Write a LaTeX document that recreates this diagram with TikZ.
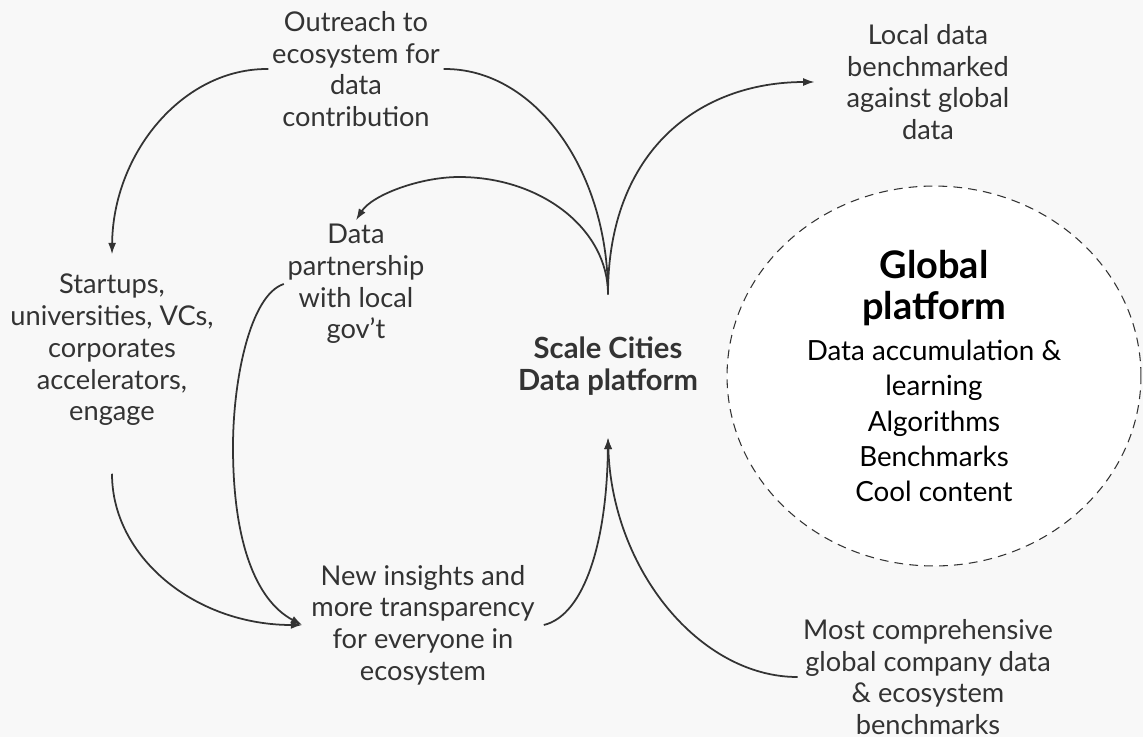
\documentclass[tikz,border=0pt]{standalone}
\usepackage{fontspec}
\setmainfont{Lato}
\usepackage{tikz}
\usetikzlibrary{arrows.meta,positioning,shapes,calc}
\definecolor{ink}{HTML}{333333}
\definecolor{paper}{HTML}{F8F8F8}

\begin{document}
\begin{tikzpicture}[x=0.02cm, y=-0.02cm,
      every node/.style={align=center, inner sep=2pt, text=ink,
          font=\fontsize{15.5}{18.1}\selectfont},
      strong/.style={font=\fontsize{16.6}{18.1}\selectfont\bfseries},
      globe/.style={ellipse, draw=ink, dashed, dash pattern=on 5pt off 3.5pt,
          line width=0.6pt, fill=white, minimum width=8.28cm, minimum height=7.6cm},
      gtitle/.style={text=black, font=\fontsize{21.6}{23.2}\selectfont\bfseries},
      glist/.style={text=black, font=\fontsize{15.8}{20.1}\selectfont},
      link/.style={draw=ink, line width=1pt},
      arr/.style={-{Latex[length=6.5pt,width=4.5pt]}}]

    \fill[paper] (0,0) rectangle (1143,737);

    % text blocks
    \node (out) at (356,69) {Outreach to\\ecosystem for\\data\\contribution};
    \node (ld) at (928,82) {Local data\\benchmarked\\against global\\data};
    \node (dp) at (356,284) {Data\\partnership\\with local\\gov’t};
    \node (su) at (112,350) {Startups,\\universities, VCs,\\corporates\\accelerators,\\engage};
    \node[strong, inner ysep=24pt] (sc) at (608,366) {Scale Cities\\Data platform};
    \node[inner xsep=5pt] (ni) at (423,625) {New insights and\\more transparency\\for everyone in\\ecosystem};
    \node[inner xsep=3pt] (mc) at (928,677) {Most comprehensive\\global company data\\\& ecosystem\\benchmarks};

    % global platform
    \node[globe] (gp) at (934,376) {};
    \node[gtitle] (gpt) at (934,288) {Global\\platform};
    \node[glist] (gpl) at (934,421) {Data accumulation \&\\learning\\Algorithms\\Benchmarks\\Cool content};

    % connectors
    \draw[link] (sc.north) .. controls (608,169) and (534,68) .. (out.east);
    \draw[link, arr] (sc.north) .. controls (608,229) and (541,177) .. (459,177)
        .. controls (420,177) and (372,195) .. (dp.north);
    \draw[link, arr] (sc.north) .. controls (608,150) and (700,82) .. ([xshift=-16pt]ld.west);
    \draw[link, arr] (out.west) .. controls (183,68) and (113,153) .. ([yshift=9pt]su.north);
    \draw[link, arr] ([yshift=-25pt]su.south) .. controls (112,557) and (195,625) .. (ni.west);
    \draw[link, arr] (dp.west) .. controls (250,295) and (233,380) .. (233,447)
        .. controls (233,540) and (255,600) .. (ni.west);
    \draw[link, arr] (ni.east) .. controls (585,615) and (607,540) .. (sc.south);
    \draw[link, arr] (mc.west) .. controls (700,677) and (612,570) .. (sc.south);
\end{tikzpicture}
\end{document}
